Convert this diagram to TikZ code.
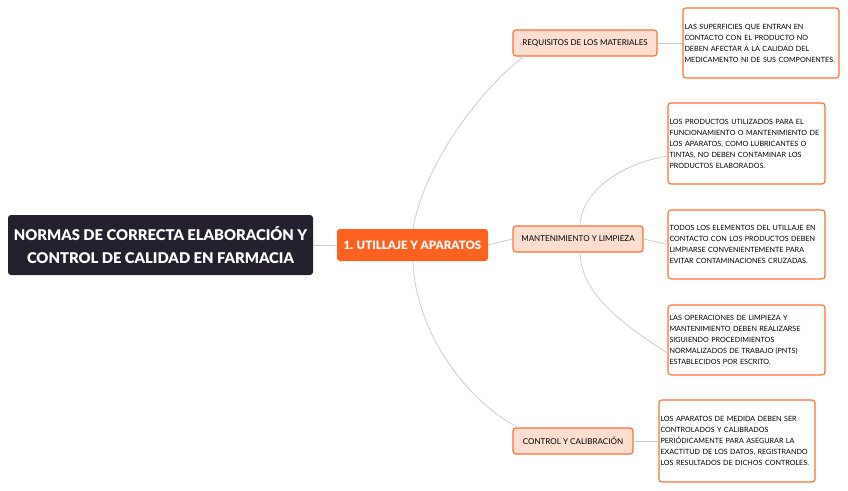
\documentclass[tikz,border=0pt]{standalone}
\usepackage{fontspec}
\setmainfont{Lato}
\newfontfamily\heavyfont{Lato Black}
\definecolor{rootc}{RGB}{36,32,46}
\definecolor{orangec}{RGB}{255,97,33}
\definecolor{borderc}{RGB}{255,110,55}
\definecolor{subfill}{RGB}{254,222,208}
\definecolor{linec}{RGB}{205,205,205}
\begin{document}
\begin{tikzpicture}[x=1pt,y=-1pt,
  rootbox/.style={fill=rootc,rounded corners=3pt,text=white,font=\fontsize{14.8}{22.5}\selectfont\heavyfont,align=center,minimum width=305pt,minimum height=60pt,inner sep=0pt},
  mainbox/.style={fill=orangec,rounded corners=3pt,text=white,font=\fontsize{11.5}{13}\selectfont\heavyfont,minimum width=151pt,minimum height=32pt,inner sep=0pt},
  subbox/.style={fill=subfill,draw=borderc,line width=1.1pt,rounded corners=3pt,font=\fontsize{8.05}{10}\selectfont,inner sep=0pt,minimum height=26pt},
  detbox/.style={draw=borderc,line width=1.1pt,rounded corners=3pt,fill=white,font=\fontsize{7.2}{11}\selectfont,align=left,inner xsep=1.5pt,inner ysep=0pt},
  conn/.style={draw=linec,line width=0.8pt}
]
\useasboundingbox (0,0) rectangle (848,490);
\node[rootbox] (root) at (160.5,245) {NORMAS DE CORRECTA ELABORACIÓN Y\\CONTROL DE CALIDAD EN FARMACIA};
\node[mainbox] (main) at (412.5,245) {1. UTILLAJE Y APARATOS};
\node[subbox,minimum width=144pt] (req) at (585,43) {REQUISITOS DE LOS MATERIALES};
\node[subbox,minimum width=130pt] (man) at (578,239) {MANTENIMIENTO Y LIMPIEZA};
\node[subbox,minimum width=120pt] (ctl) at (573,441) {CONTROL Y CALIBRACIÓN};
\node[detbox,text width=153pt,minimum height=70pt] (d1) at (761,43) {LAS SUPERFICIES QUE ENTRAN EN\\CONTACTO CON EL PRODUCTO NO\\DEBEN AFECTAR A LA CALIDAD DEL\\MEDICAMENTO NI DE SUS COMPONENTES.};
\node[detbox,text width=154pt,minimum height=81pt] (d2) at (746.5,143.5) {LOS PRODUCTOS UTILIZADOS PARA EL\\FUNCIONAMIENTO O MANTENIMIENTO DE\\LOS APARATOS, COMO LUBRICANTES O\\TINTAS, NO DEBEN CONTAMINAR LOS\\PRODUCTOS ELABORADOS.};
\node[detbox,text width=154pt,minimum height=69pt] (d3) at (746.5,244.5) {TODOS LOS ELEMENTOS DEL UTILLAJE EN\\CONTACTO CON LOS PRODUCTOS DEBEN\\LIMPIARSE CONVENIENTEMENTE PARA\\EVITAR CONTAMINACIONES CRUZADAS.};
\node[detbox,text width=154pt,minimum height=70pt] (d4) at (746.5,340) {LAS OPERACIONES DE LIMPIEZA Y\\MANTENIMIENTO DEBEN REALIZARSE\\SIGUIENDO PROCEDIMIENTOS\\NORMALIZADOS DE TRABAJO (PNTS)\\ESTABLECIDOS POR ESCRITO.};
\node[detbox,text width=153pt,minimum height=82pt] (d5) at (737,441) {LOS APARATOS DE MEDIDA DEBEN SER\\CONTROLADOS Y CALIBRADOS\\PERIÓDICAMENTE PARA ASEGURAR LA\\EXACTITUD DE LOS DATOS, REGISTRANDO\\LOS RESULTADOS DE DICHOS CONTROLES.};
\draw[conn] (root.east) -- (main.west);
\draw[conn] (main.east) -- (man.west);
\draw[conn] ([xshift=0.5pt]main.north) .. controls (425,160) and (485,85) .. ([xshift=-60pt,yshift=1pt]req.south);
\draw[conn] ([xshift=0.5pt]main.south) .. controls (415,330) and (465,400) .. ([xshift=-55pt]ctl.north);
\draw[conn] (req.east) -- (d1.west);
\draw[conn] (ctl.east) -- (d5.west);
\draw[conn] (man.east) -- (d3.west);
\draw[conn] ([xshift=2pt]man.north) .. controls (581,195) and (615,165) .. ([yshift=-12.5pt]d2.west);
\draw[conn] ([xshift=2pt]man.south) .. controls (581,290) and (615,320) .. ([yshift=-13pt]d4.west);
\end{tikzpicture}
\end{document}
